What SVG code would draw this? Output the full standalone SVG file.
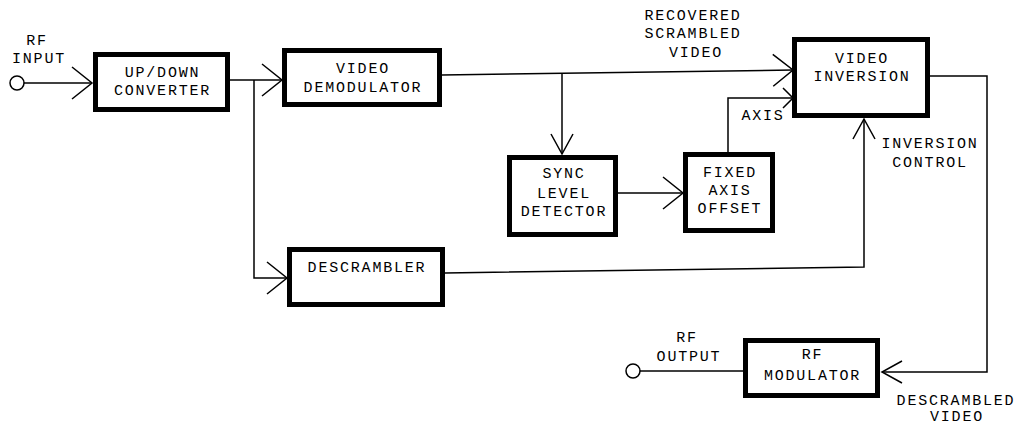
<svg xmlns="http://www.w3.org/2000/svg" width="1018" height="425" viewBox="0 0 1018 425">
<style>
  .box { fill: #ffffff; stroke: #000000; stroke-width: 5; }
  .t { font-family: "Liberation Mono", "DejaVu Sans Mono", monospace; font-size: 15px; letter-spacing: 1.8px; fill: #000000; text-anchor: middle; }
  .c { fill: none; stroke: #000000; stroke-width: 1.5; }
  .ah { fill: none; stroke: #000000; stroke-width: 1.5; }
</style>
<defs>
  <marker id="aL" markerUnits="userSpaceOnUse" markerWidth="30" markerHeight="40" viewBox="-24 -20 28 40" refX="0" refY="0" orient="auto" overflow="visible">
    <path class="ah" d="M -20 -16 L 0 0 L -20 16"/>
  </marker>
  <marker id="aM" markerUnits="userSpaceOnUse" markerWidth="30" markerHeight="30" viewBox="-24 -15 28 30" refX="0" refY="0" orient="auto" overflow="visible">
    <path class="ah" d="M -20 -11 L 0 0 L -20 11"/>
  </marker>
  <marker id="aS" markerUnits="userSpaceOnUse" markerWidth="20" markerHeight="24" viewBox="-14 -12 18 24" refX="0" refY="0" orient="auto" overflow="visible">
    <path class="ah" d="M -10 -10 L 0 0 L -10 10"/>
  </marker>
</defs>
<rect width="1018" height="425" fill="#ffffff"/>

<g id="connectors">
  <circle class="c" cx="17" cy="83" r="7"/>
  <line class="c" x1="24" y1="83" x2="92" y2="83" marker-end="url(#aL)"/>
  <line class="c" x1="230" y1="80" x2="282" y2="80" marker-end="url(#aL)"/>
  <polyline class="c" points="254,80 254,278 287,278" marker-end="url(#aL)"/>
  <line class="c" x1="442" y1="75" x2="793" y2="70" marker-end="url(#aL)"/>
  <line class="c" x1="562" y1="74" x2="562" y2="154" marker-end="url(#aM)"/>
  <line class="c" x1="618" y1="193" x2="683" y2="193" marker-end="url(#aL)"/>
  <polyline class="c" points="728,152 728,98 793,98" marker-end="url(#aS)"/>
  <polyline class="c" points="445,273 864,267 864,119" marker-end="url(#aM)"/>
  <polyline class="c" points="930,76 987,76 987,372 882,372" marker-end="url(#aM)"/>
  <line class="c" x1="743" y1="371" x2="640" y2="371"/>
  <circle class="c" cx="633" cy="371" r="7"/>
</g>

<g id="labels">
  <text class="t" x="37" y="45">RF</text>
  <text class="t" x="39" y="63">INPUT</text>
  <text class="t" x="693" y="20">RECOVERED</text>
  <text class="t" x="693" y="38">SCRAMBLED</text>
  <text class="t" x="696" y="57">VIDEO</text>
  <text class="t" x="763" y="120">AXIS</text>
  <text class="t" x="930" y="148">INVERSION</text>
  <text class="t" x="930" y="167">CONTROL</text>
  <text class="t" x="687" y="342">RF</text>
  <text class="t" x="689" y="361">OUTPUT</text>
  <text class="t" x="956" y="405">DESCRAMBLED</text>
  <text class="t" x="957" y="421">VIDEO</text>
</g>

<g id="updown">
  <rect class="box" x="95.5" y="54.5" width="132" height="55"/>
  <text class="t" x="162.5" y="77">UP/DOWN</text>
  <text class="t" x="162.5" y="95">CONVERTER</text>
</g>
<g id="demod">
  <rect class="box" x="284.5" y="50.5" width="155" height="54"/>
  <text class="t" x="363" y="73">VIDEO</text>
  <text class="t" x="363" y="92">DEMODULATOR</text>
</g>
<g id="inversion">
  <rect class="box" x="794.5" y="39.5" width="133" height="76"/>
  <text class="t" x="862" y="63">VIDEO</text>
  <text class="t" x="862" y="81">INVERSION</text>
</g>
<g id="sync">
  <rect class="box" x="509.5" y="157.5" width="106" height="77"/>
  <text class="t" x="564" y="178">SYNC</text>
  <text class="t" x="564" y="198">LEVEL</text>
  <text class="t" x="564" y="216">DETECTOR</text>
</g>
<g id="fixed">
  <rect class="box" x="685.5" y="154.5" width="87" height="76"/>
  <text class="t" x="730" y="177">FIXED</text>
  <text class="t" x="730" y="195">AXIS</text>
  <text class="t" x="730" y="213">OFFSET</text>
</g>
<g id="descrambler">
  <rect class="box" x="289.5" y="249.5" width="153" height="55"/>
  <text class="t" x="367" y="272">DESCRAMBLER</text>
</g>
<g id="rfmod">
  <rect class="box" x="745.5" y="340.5" width="132" height="55"/>
  <text class="t" x="812.5" y="359">RF</text>
  <text class="t" x="812.5" y="380">MODULATOR</text>
</g>
</svg>
